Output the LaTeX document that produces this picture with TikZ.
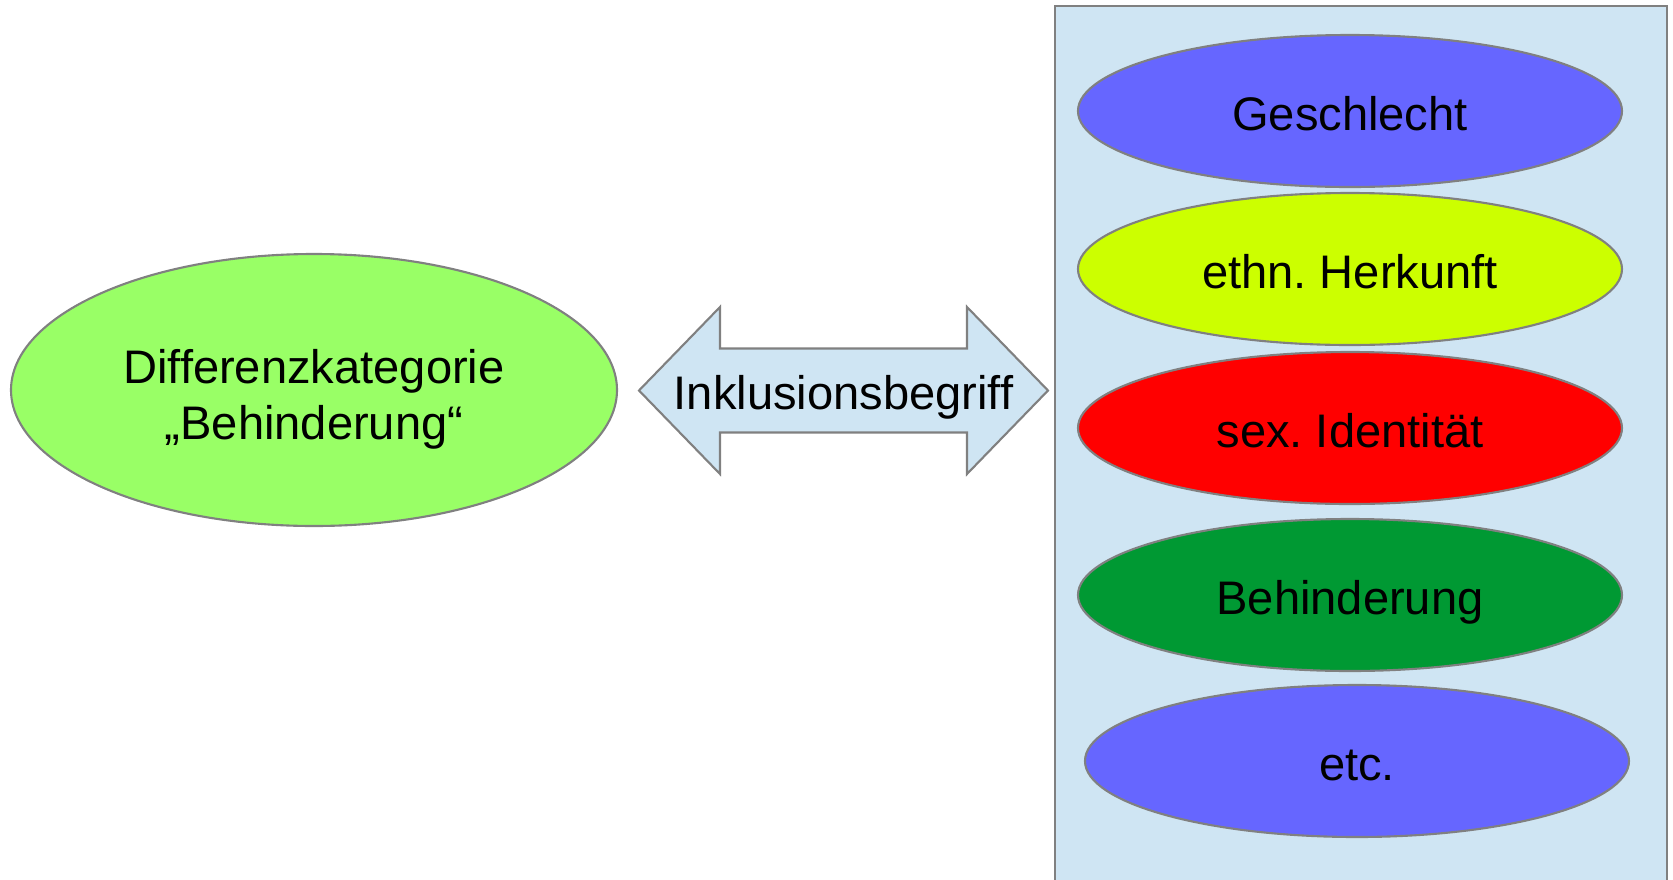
\documentclass[tikz,border=0pt]{standalone}
\usepackage{fontspec}
\setmainfont{Liberation Sans}
\usepackage{xcolor}
\usepackage{tikz}
\usetikzlibrary{shapes.geometric}

\definecolor{boxblue}{HTML}{CFE5F3}
\definecolor{catblue}{HTML}{6666FF}
\definecolor{catyellow}{HTML}{CCFF00}
\definecolor{catred}{HTML}{FF0000}
\definecolor{catgreen}{HTML}{009933}
\definecolor{lightgreen}{HTML}{99FF66}
\definecolor{edgegray}{HTML}{808080}

\begin{document}
\begin{tikzpicture}[font=\fontsize{13.4}{16}\selectfont\frenchspacing,
  oval/.style={ellipse,draw=edgegray,line width=0.6pt,inner sep=0pt,align=center},
  cat/.style={oval,minimum width=5.44cm,minimum height=1.52cm,
    text height=12.3pt,text depth=1.3pt}]
  \useasboundingbox (0,0) rectangle (16.73,8.79);
  % left category
  \node[oval,fill=lightgreen,minimum width=6.06cm,minimum height=2.72cm] (diff) at (3.14,4.89)
    {\rule{0pt}{1.12em}Differenzkategorie\\„Behinderung“};
  % double arrow
  \draw[draw=edgegray,line width=0.6pt,fill=boxblue]
    (6.39,4.885) -- (7.20,5.72) -- (7.20,5.305) -- (9.67,5.305) -- (9.67,5.72)
    -- (10.48,4.885) -- (9.67,4.05) -- (9.67,4.465) -- (7.20,4.465) -- (7.20,4.05) -- cycle;
  \node (inkl) at (8.435,4.82) {Inklusionsbegriff};
  % box of categories
  \draw[draw=edgegray,line width=0.6pt,fill=boxblue] (10.55,-0.2) rectangle (16.67,8.734);
  \node[cat,fill=catblue] (geschlecht) at (13.50,7.68) {Geschlecht};
  \node[cat,fill=catyellow] (herkunft) at (13.50,6.10) {ethn. Herkunft};
  \node[cat,fill=catred] (identitaet) at (13.50,4.51) {sex. Identität};
  \node[cat,fill=catgreen] (behinderung) at (13.50,2.84) {Behinderung};
  \node[cat,fill=catblue] (etc) at (13.57,1.18) {etc.};
\end{tikzpicture}
\end{document}
